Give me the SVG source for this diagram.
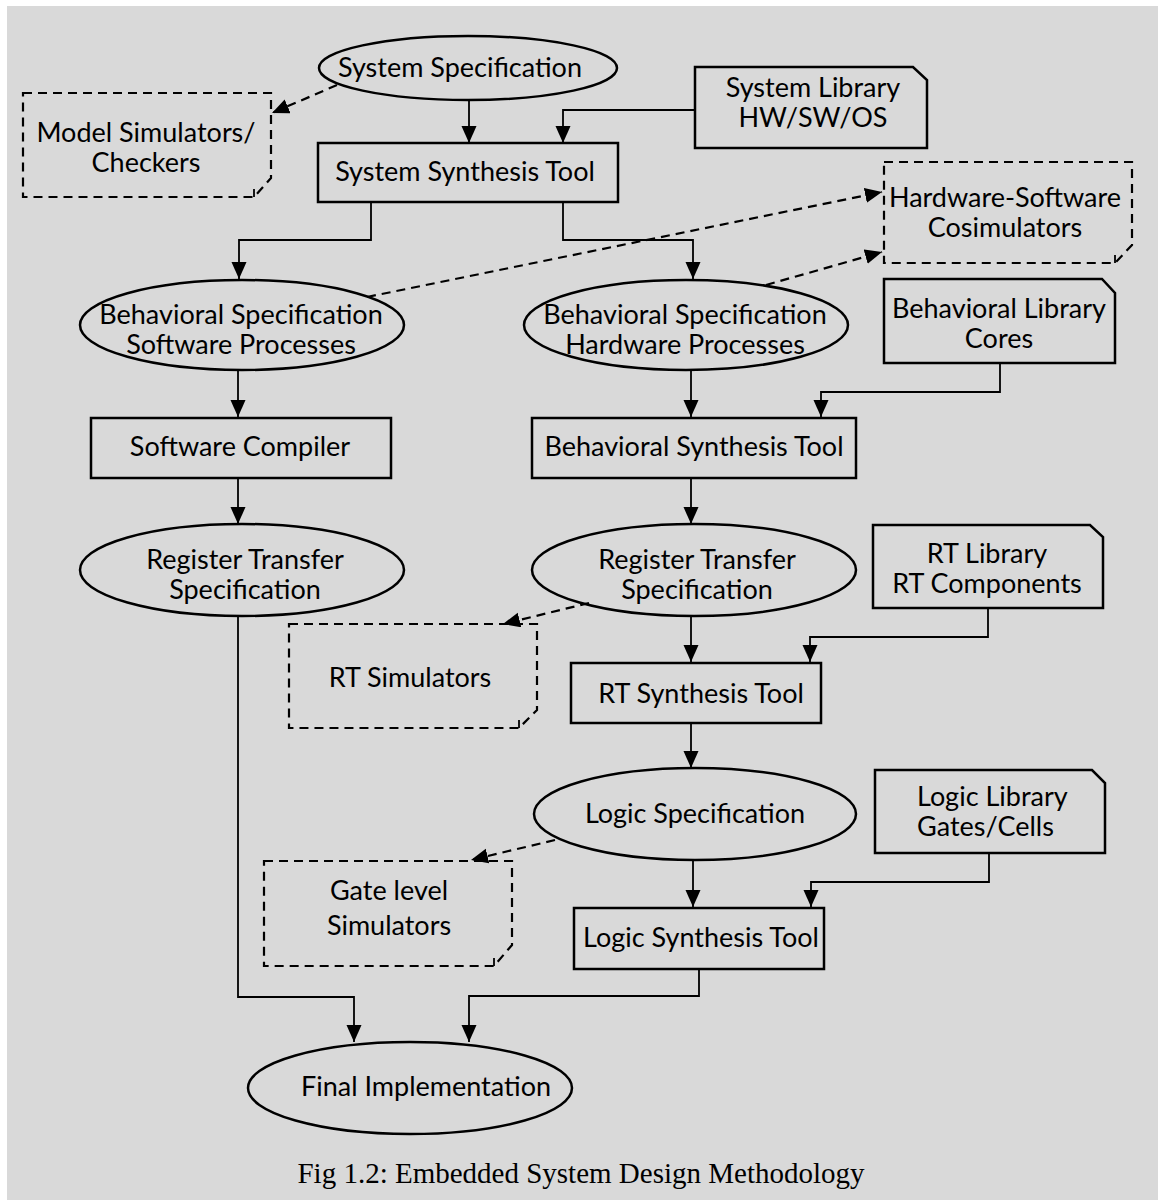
<svg xmlns="http://www.w3.org/2000/svg" width="1158" height="1200" viewBox="0 0 1158 1200">
<defs>
<marker id="arr" markerUnits="userSpaceOnUse" markerWidth="18" markerHeight="16" refX="17" refY="7.5" orient="auto">
<path d="M0,0 L17,7.5 L0,15 Z" fill="#000"/>
</marker>
<style>
.bg{fill:#d9d9d9}
.n{fill:none;stroke:#000;stroke-width:2.5}
.d{fill:none;stroke:#000;stroke-width:2.2;stroke-dasharray:9 6}
.c{fill:none;stroke:#000;stroke-width:1.8}
.cd{fill:none;stroke:#000;stroke-width:2.2;stroke-dasharray:9 6}
.t{font-family:Lato,"Liberation Sans",sans-serif;font-size:27px;fill:#000;text-anchor:middle}
.cap{font-family:"Liberation Serif",serif;font-size:29px;fill:#000;text-anchor:middle}
</style>
</defs>
<rect class="bg" x="7" y="6" width="1151" height="1194"/>

<g id="connectors">
<path class="cd" d="M337,85 L272,113" marker-end="url(#arr)"/>
<path class="cd" d="M367,297 L882,192" marker-end="url(#arr)"/>
<path class="cd" d="M766,285 L882,252" marker-end="url(#arr)"/>
<path class="cd" d="M589,603 L503,624" marker-end="url(#arr)"/>
<path class="cd" d="M555,840 L471,860" marker-end="url(#arr)"/>
<path class="c" d="M469,100 V143" marker-end="url(#arr)"/>
<path class="c" d="M695,110 H563 V143" marker-end="url(#arr)"/>
<path class="c" d="M371,202 V240 H239 V279" marker-end="url(#arr)"/>
<path class="c" d="M563,202 V240 H693 V279" marker-end="url(#arr)"/>
<path class="c" d="M238,370 V417" marker-end="url(#arr)"/>
<path class="c" d="M691,370 V417" marker-end="url(#arr)"/>
<path class="c" d="M1000,363 V392 H821 V417" marker-end="url(#arr)"/>
<path class="c" d="M238,478 V524" marker-end="url(#arr)"/>
<path class="c" d="M691,478 V524" marker-end="url(#arr)"/>
<path class="c" d="M691,616 V662" marker-end="url(#arr)"/>
<path class="c" d="M988,608 V637 H810 V662" marker-end="url(#arr)"/>
<path class="c" d="M691,723 V768" marker-end="url(#arr)"/>
<path class="c" d="M693,860 V907" marker-end="url(#arr)"/>
<path class="c" d="M989,853 V882 H811 V907" marker-end="url(#arr)"/>
<path class="c" d="M238,616 V997 H354 V1042" marker-end="url(#arr)"/>
<path class="c" d="M699,969 V996 H469 V1042" marker-end="url(#arr)"/>
</g>

<g id="system-specification">
<ellipse class="n" cx="468" cy="68" rx="149" ry="32"/>
<text class="t" x="460" y="77">System Specification</text>
</g>
<g id="model-simulators">
<path class="d" d="M23,93 H271 V178 L254,197 H23 Z"/>
<path class="c" d="M254,197 V189"/>
<text class="t" x="146" y="142">Model Simulators/</text>
<text class="t" x="146" y="172">Checkers</text>
</g>
<g id="system-synthesis-tool">
<rect class="n" x="318" y="143" width="300" height="59"/>
<text class="t" x="465" y="181">System Synthesis Tool</text>
</g>
<g id="system-library">
<path class="n" d="M695,67 H913 L927,80 V148 H695 Z"/>
<text class="t" x="813" y="97">System Library</text>
<text class="t" x="813" y="127">HW/SW/OS</text>
</g>
<g id="hw-sw-cosimulators">
<path class="d" d="M884,162 H1132 V245 L1115,263 H884 Z"/>
<path class="c" d="M1115,263 V255"/>
<text class="t" x="1005" y="207">Hardware-Software</text>
<text class="t" x="1005" y="237">Cosimulators</text>
</g>
<g id="behavioral-spec-sw">
<ellipse class="n" cx="242" cy="325" rx="162" ry="45"/>
<text class="t" x="241" y="324">Behavioral Specification</text>
<text class="t" x="241" y="354">Software Processes</text>
</g>
<g id="behavioral-spec-hw">
<ellipse class="n" cx="686" cy="325" rx="162" ry="45"/>
<text class="t" x="685" y="324">Behavioral Specification</text>
<text class="t" x="685" y="354">Hardware Processes</text>
</g>
<g id="behavioral-library">
<path class="n" d="M884,279 H1102 L1115,293 V363 H884 Z"/>
<text class="t" x="999" y="318">Behavioral Library</text>
<text class="t" x="999" y="348">Cores</text>
</g>
<g id="software-compiler">
<rect class="n" x="91" y="418" width="300" height="60"/>
<text class="t" x="240" y="456">Software Compiler</text>
</g>
<g id="behavioral-synthesis-tool">
<rect class="n" x="532" y="418" width="324" height="60"/>
<text class="t" x="694" y="456">Behavioral Synthesis Tool</text>
</g>
<g id="rt-spec-sw">
<ellipse class="n" cx="242" cy="570" rx="162" ry="46"/>
<text class="t" x="245" y="569">Register Transfer</text>
<text class="t" x="245" y="599">Specification</text>
</g>
<g id="rt-spec-hw">
<ellipse class="n" cx="694" cy="570" rx="162" ry="46"/>
<text class="t" x="697" y="569">Register Transfer</text>
<text class="t" x="697" y="599">Specification</text>
</g>
<g id="rt-simulators">
<path class="d" d="M289,624 H537 V710 L519,728 H289 Z"/>
<path class="c" d="M519,728 V720"/>
<text class="t" x="410" y="687">RT Simulators</text>
</g>
<g id="rt-library">
<path class="n" d="M873,525 H1090 L1103,537 V608 H873 Z"/>
<text class="t" x="987" y="563">RT Library</text>
<text class="t" x="987" y="593">RT Components</text>
</g>
<g id="rt-synthesis-tool">
<rect class="n" x="571" y="663" width="250" height="60"/>
<text class="t" x="701" y="703">RT Synthesis Tool</text>
</g>
<g id="logic-specification">
<ellipse class="n" cx="695" cy="814" rx="161" ry="46"/>
<text class="t" x="695" y="823">Logic Specification</text>
</g>
<g id="logic-library">
<path class="n" d="M875,770 H1092 L1105,783 V853 H875 Z"/>
<text class="t" x="917" y="806" style="text-anchor:start">Logic Library</text>
<text class="t" x="917" y="836" style="text-anchor:start">Gates/Cells</text>
</g>
<g id="gate-level-simulators">
<path class="d" d="M264,861 H512 V945 L494,966 H264 Z"/>
<path class="c" d="M494,966 V958"/>
<text class="t" x="389" y="900">Gate level</text>
<text class="t" x="389" y="935">Simulators</text>
</g>
<g id="logic-synthesis-tool">
<rect class="n" x="574" y="908" width="250" height="61"/>
<text class="t" x="701" y="947">Logic Synthesis Tool</text>
</g>
<g id="final-implementation">
<ellipse class="n" cx="410" cy="1088" rx="162" ry="46"/>
<text class="t" x="426" y="1096">Final Implementation</text>
</g>
<text class="cap" x="581" y="1183">Fig 1.2: Embedded System Design Methodology</text>
</svg>
